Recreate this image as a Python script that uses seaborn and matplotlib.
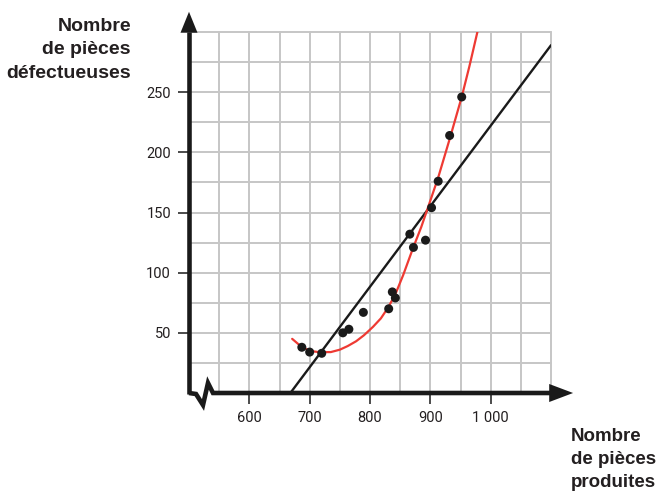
import numpy as np
import pandas as pd
import matplotlib
matplotlib.use("Agg")
import matplotlib.pyplot as plt
import seaborn as sns

# data
produites = [687, 700, 720, 755, 765, 789, 831, 837, 842, 866, 872, 892, 902, 913, 932, 952]
defectueuses = [38, 34, 33, 50, 53, 67, 70, 84, 79, 132, 121, 127, 154, 176, 214, 246]

# red curve
courbe_x = [671, 685, 700, 715, 735, 750, 763, 777, 790, 805, 818, 830, 842, 855, 871, 885, 896, 913, 932, 952, 965, 978]
courbe_y = [45, 39, 35, 34, 34, 36, 39, 43, 48, 55, 62, 71, 82, 98, 120, 138, 154, 179, 211, 246, 272, 300]

# black straight line (end points)
droite_x = [668, 1100]
droite_y = [0, 289]

x_ticks = [600, 700, 800, 900, 1000]
x_labels = ["600", "700", "800", "900", "1 000"]
y_ticks = [50, 100, 150, 200, 250]

sns.set_style("white")
plt.rcParams["font.family"] = ["Roboto", "DejaVu Sans"]

fig = plt.figure(figsize=(6.6, 4.93), dpi=100)
ax = fig.add_axes([189 / 660, 100 / 493, 362 / 660, 361 / 493])
ax.set_xlim(500, 1100)
ax.set_ylim(0, 300)

# grid
grid_col = "#c6c6c6"
for gx in np.arange(550, 1101, 50):
    ax.axvline(gx, color=grid_col, lw=1.4, zorder=0, clip_on=False)
for gy in np.arange(25, 301, 25):
    ax.axhline(gy, color=grid_col, lw=1.4, zorder=0, clip_on=False)

pts = pd.DataFrame({"x": produites, "y": defectueuses})
courbe = pd.DataFrame({"x": courbe_x, "y": courbe_y})
droite = pd.DataFrame({"x": droite_x, "y": droite_y})

sns.lineplot(data=droite, x="x", y="y", color="#1a1a1a", lw=1.7, sort=False,
             estimator=None, ax=ax, zorder=3)
sns.lineplot(data=courbe, x="x", y="y", color="#ee3a33", lw=1.6, sort=False,
             estimator=None, ax=ax, zorder=4)
sns.scatterplot(data=pts, x="x", y="y", color="#1a1a1a", s=42, edgecolor="none",
                ax=ax, zorder=5)

for s in ax.spines.values():
    s.set_visible(False)

# axes with arrows and the axis break
tr = ax.transAxes
axis_col = "#1a1a1a"
zx = [(p - 189) / 362 for p in [189, 196, 203, 208, 213, 551]]
zy = [(393 - p) / 361 for p in [393, 394, 405, 383, 393, 393]]
ax.plot(zx, zy, transform=tr, color=axis_col, lw=3.3, clip_on=False,
        solid_joinstyle="miter", solid_capstyle="butt", zorder=6)
ax.fill([0.995, 1.061, 0.995], [0.025, 0, -0.025], transform=tr,
        color=axis_col, clip_on=False, zorder=6, lw=0)
ax.plot([0, 0], [-0.004, 1.0], transform=tr, color=axis_col, lw=3.3,
        clip_on=False, solid_capstyle="butt", zorder=6)
ax.fill([-0.0235, 0, 0.0235], [0.998, 1.056, 0.998], transform=tr,
        color=axis_col, clip_on=False, zorder=6, lw=0)

ax.set_xticks(x_ticks)
ax.set_xticklabels(x_labels)
ax.set_yticks(y_ticks)
ax.tick_params(axis="both", which="major", direction="out", length=8, width=1.1,
               color=axis_col, labelsize=10.5, labelcolor="#231f20",
               bottom=True, left=True)
ax.tick_params(axis="x", pad=5)
ax.tick_params(axis="y", pad=5)
ax.set_xlabel("")
ax.set_ylabel("")

titre_font = ["Liberation Sans", "DejaVu Sans"]
fig.text(131 / 660, 1 - 18 / 493, "Nombre\nde pièces\ndéfectueuses", ha="right", va="top",
         family=titre_font, fontsize=14, fontweight="bold", color="#231f20",
         linespacing=1.5)
fig.text(571 / 660, 1 - 428 / 493, "Nombre\nde pièces\nproduites", ha="left", va="top",
         family=titre_font, fontsize=13.5, fontweight="bold", color="#231f20",
         linespacing=1.45)

fig.savefig("out.png", dpi=100)
